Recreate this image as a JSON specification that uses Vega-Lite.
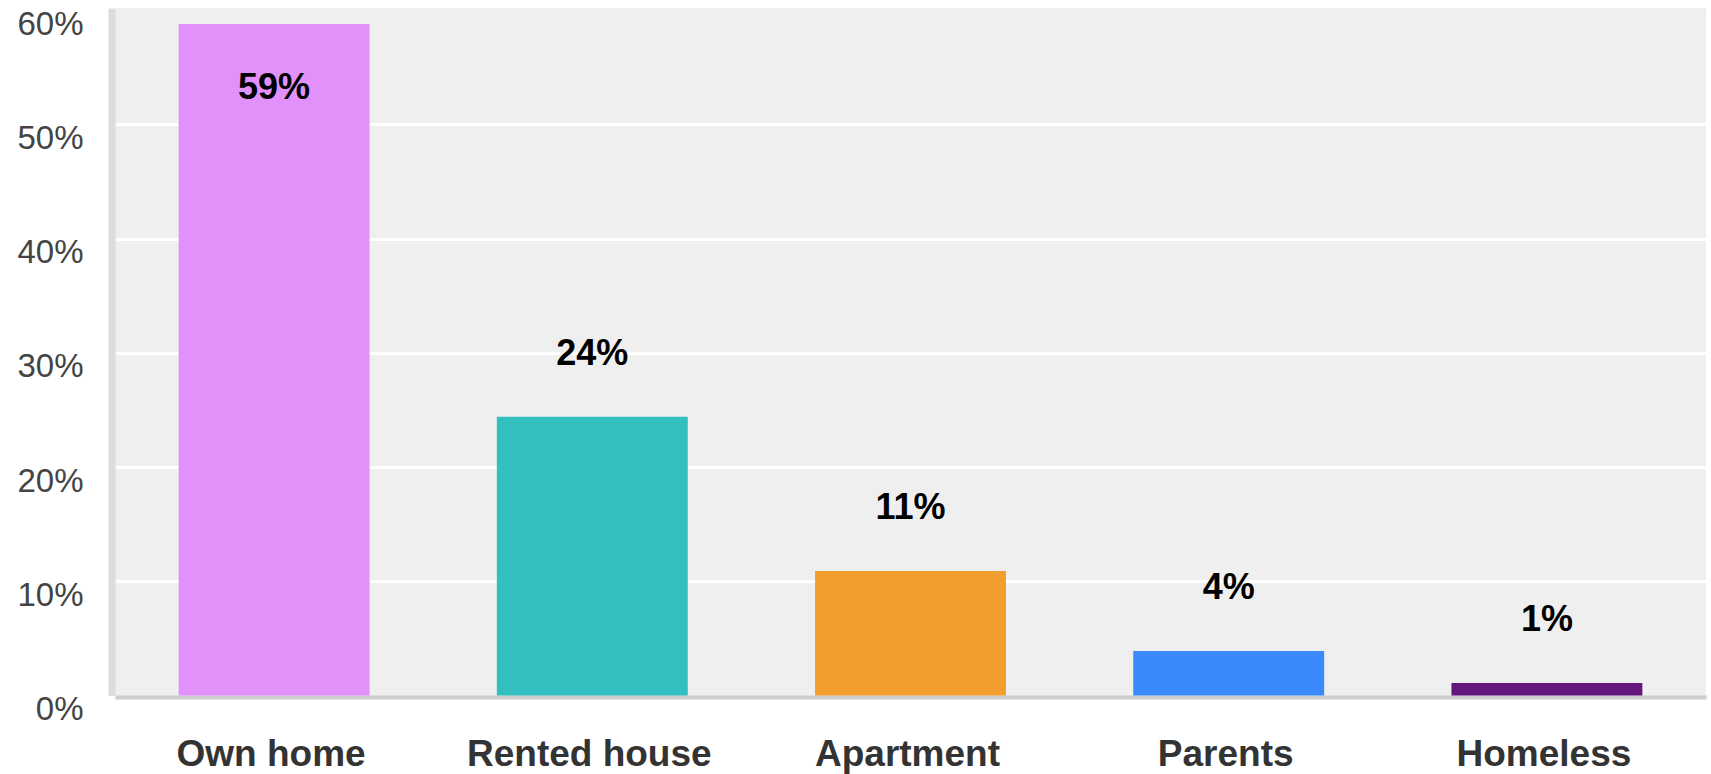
{
  "$schema": "https://vega.github.io/schema/vega-lite/v6.json",
  "autosize": {"type": "none"},
  "padding": {"left": 115, "top": 8, "right": 5, "bottom": 78.5},
  "width": 1591,
  "height": 687.5,
  "background": "white",
  "config": {
    "view": {"fill": "#efefef", "stroke": null},
    "font": "Liberation Sans"
  },
  "data": {
    "values": [
      {"place": "Own home", "share": 58.8, "label": "59%"},
      {"place": "Rented house", "share": 24.4, "label": "24%"},
      {"place": "Apartment", "share": 10.9, "label": "11%"},
      {"place": "Parents", "share": 3.9, "label": "4%"},
      {"place": "Homeless", "share": 1.1, "label": "1%"}
    ]
  },
  "encoding": {
    "x": {
      "field": "place",
      "type": "nominal",
      "sort": null,
      "scale": {"paddingInner": 0.4, "paddingOuter": 0.2},
      "axis": {
        "title": null,
        "labelAngle": 0,
        "labelFont": "Liberation Sans",
        "labelFontSize": 37,
        "labelFontWeight": "bold",
        "labelColor": "#333333",
        "labelPadding": 39,
        "labelOffset": -3,
        "labelLimit": 500,
        "ticks": false,
        "tickSize": 0,
        "domainColor": "#cdcdcd",
        "domainWidth": 4,
        "offset": 1.5,
        "grid": false
      }
    },
    "y": {
      "field": "share",
      "type": "quantitative",
      "scale": {"domain": [0, 60.2], "nice": false},
      "axis": {
        "title": null,
        "values": [0, 10, 20, 30, 40, 50, 60],
        "labelExpr": "datum.value + '%'",
        "labelFont": "Liberation Sans",
        "labelFontSize": 33,
        "labelColor": "#444444",
        "labelBaseline": "top",
        "labelOffset": -2,
        "labelPadding": 28.5,
        "ticks": false,
        "tickSize": 0,
        "domainColor": "#dcdcdc",
        "domainWidth": 7,
        "offset": 3.5,
        "grid": true,
        "gridColor": {"condition": {"test": "datum.value >= 60 || datum.value <= 0", "value": "#efefef"}, "value": "#ffffff"},
        "gridWidth": 3,
        "gridOpacity": 1
      }
    }
  },
  "layer": [
    {
      "mark": {"type": "bar"},
      "encoding": {
        "color": {
          "field": "place",
          "type": "nominal",
          "sort": null,
          "scale": {
            "domain": ["Own home", "Rented house", "Apartment", "Parents", "Homeless"],
            "range": ["#e291fb", "#33bec0", "#f29e2e", "#3a8afd", "#64187d"]
          },
          "legend": null
        }
      }
    },
    {
      "transform": [{"filter": "datum.share < 50"}],
      "mark": {"type": "text", "baseline": "alphabetic", "align": "center", "dy": -52, "fontSize": 36, "fontWeight": "bold", "color": "#000000", "font": "Liberation Sans"},
      "encoding": {"text": {"field": "label"}}
    },
    {
      "transform": [{"filter": "datum.share >= 50"}],
      "mark": {"type": "text", "baseline": "alphabetic", "align": "center", "dy": 75, "fontSize": 36, "fontWeight": "bold", "color": "#000000", "font": "Liberation Sans"},
      "encoding": {"text": {"field": "label"}}
    }
  ]
}
